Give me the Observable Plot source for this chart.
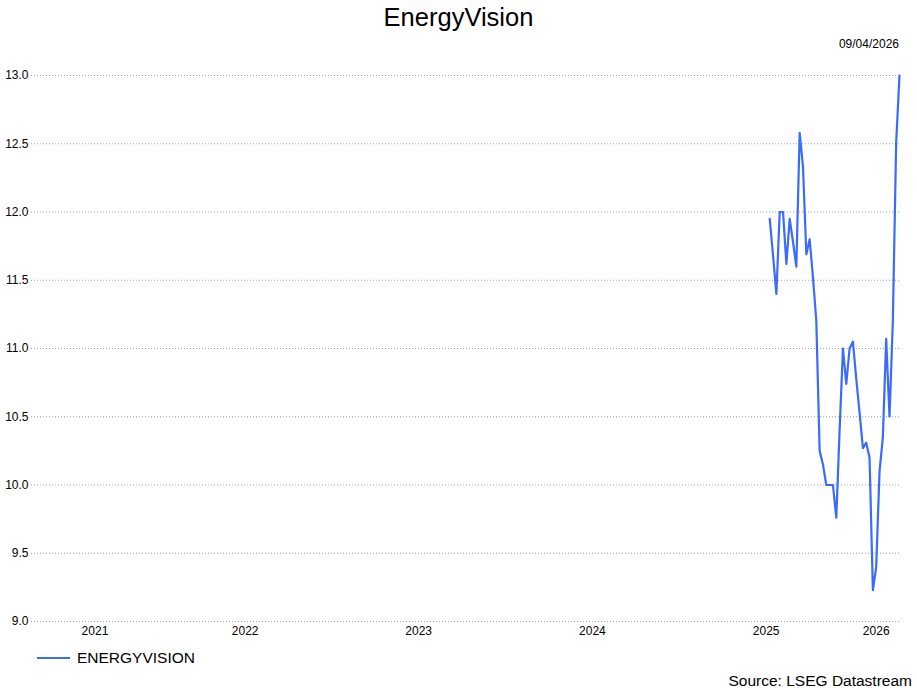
<!DOCTYPE html>
<html>
<head>
<meta charset="utf-8">
<script src="https://cdn.jsdelivr.net/npm/d3@7"></script>
<script src="https://cdn.jsdelivr.net/npm/@observablehq/plot@0.6"></script>
<style>
  html, body { margin: 0; padding: 0; background: #fff; }
  #wrap { position: relative; width: 917px; height: 690px; font-family: "Liberation Sans", Arial, sans-serif; color: #000; }
  #wrap svg { position: absolute; left: 0; top: 0; }
  .txt { position: absolute; white-space: nowrap; line-height: 1; }
  #title { left: 0; width: 917px; text-align: center; top: 5px; font-size: 25.5px; }
  #date { right: 18px; top: 38px; font-size: 12px; }
  #legend { left: 37px; top: 650px; font-size: 15.5px; display: flex; align-items: center; }
  #legend .sw { width: 33px; height: 2px; background: #3a6bff; margin-right: 7px; }
  #source { right: 5px; top: 673px; font-size: 15.5px; }
</style>
</head>
<body>
<div id="wrap">
  <div id="chart"></div>
  <div class="txt" id="title">EnergyVision</div>
  <div class="txt" id="date">09/04/2026</div>
  <div class="txt" id="legend"><span class="sw"></span><span>ENERGYVISION</span></div>
  <div class="txt" id="source">Source: LSEG Datastream</div>
</div>
<script>
// ---- data ----
const seriesName = "ENERGYVISION";
const dates = [
  "2025-07-10","2025-07-17","2025-07-24","2025-07-31","2025-08-07","2025-08-14","2025-08-21","2025-08-28",
  "2025-09-04","2025-09-11","2025-09-18","2025-09-25","2025-10-02","2025-10-09","2025-10-16","2025-10-23",
  "2025-10-30","2025-11-06","2025-11-13","2025-11-20","2025-11-27","2025-12-04","2025-12-11","2025-12-18",
  "2025-12-25","2026-01-01","2026-01-08","2026-01-15","2026-01-22","2026-01-29","2026-02-05","2026-02-12",
  "2026-02-19","2026-02-26","2026-03-05","2026-03-12","2026-03-19","2026-03-26","2026-04-02","2026-04-09"
];
const values = [
  11.95, 11.68, 11.40, 12.00, 12.00, 11.62, 11.95, 11.78,
  11.60, 12.58, 12.33, 11.69, 11.80, 11.52, 11.20, 10.25,
  10.15, 10.00, 10.00, 10.00, 9.76, 10.40, 11.00, 10.74,
  11.00, 11.05, 10.78, 10.53, 10.27, 10.31, 10.20, 9.23,
  9.40, 10.10, 10.35, 11.07, 10.50, 11.20, 12.51, 13.00
];
const yTicks = [9.0, 9.5, 10.0, 10.5, 11.0, 11.5, 12.0, 12.5, 13.0];
const xYears = [2021, 2022, 2023, 2024, 2025, 2026];
const xStart = "2021-04-09";
const xEnd = "2026-04-09";

// ---- build ----
const data = dates.map((d, i) => ({date: new Date(d), value: values[i]}));
const d0 = new Date(xStart), d1 = new Date(xEnd);
const yearCenters = xYears.map(y => {
  const s = Math.max(Date.UTC(y, 0, 1), +d0);
  const e = Math.min(Date.UTC(y + 1, 0, 1), +d1);
  return new Date((s + e) / 2);
});

const chart = Plot.plot({
  width: 917,
  height: 690,
  marginTop: 75,
  marginBottom: 69,
  marginLeft: 31,
  marginRight: 18,
  style: {fontFamily: "'Liberation Sans', Arial, sans-serif", fontSize: "12px", color: "#000", background: "transparent"},
  x: {type: "utc", domain: [d0, d1]},
  y: {domain: [9, 13]},
  marks: [
    Plot.ruleY(yTicks, {stroke: "#a0a0a0", strokeDasharray: "1,2", strokeWidth: 1}),
    Plot.axisY({ticks: yTicks, tickSize: 0, tickPadding: 3, tickFormat: d => d.toFixed(1), label: null, fontSize: 12}),
    Plot.axisX({ticks: yearCenters, tickSize: 0, tickPadding: 5, tickFormat: d3.utcFormat("%Y"), label: null, fontSize: 12}),
    Plot.line(data, {x: "date", y: "value", stroke: "#3a6bff", strokeWidth: 2.2})
  ]
});
document.getElementById("chart").appendChild(chart);
</script>
</body>
</html>
